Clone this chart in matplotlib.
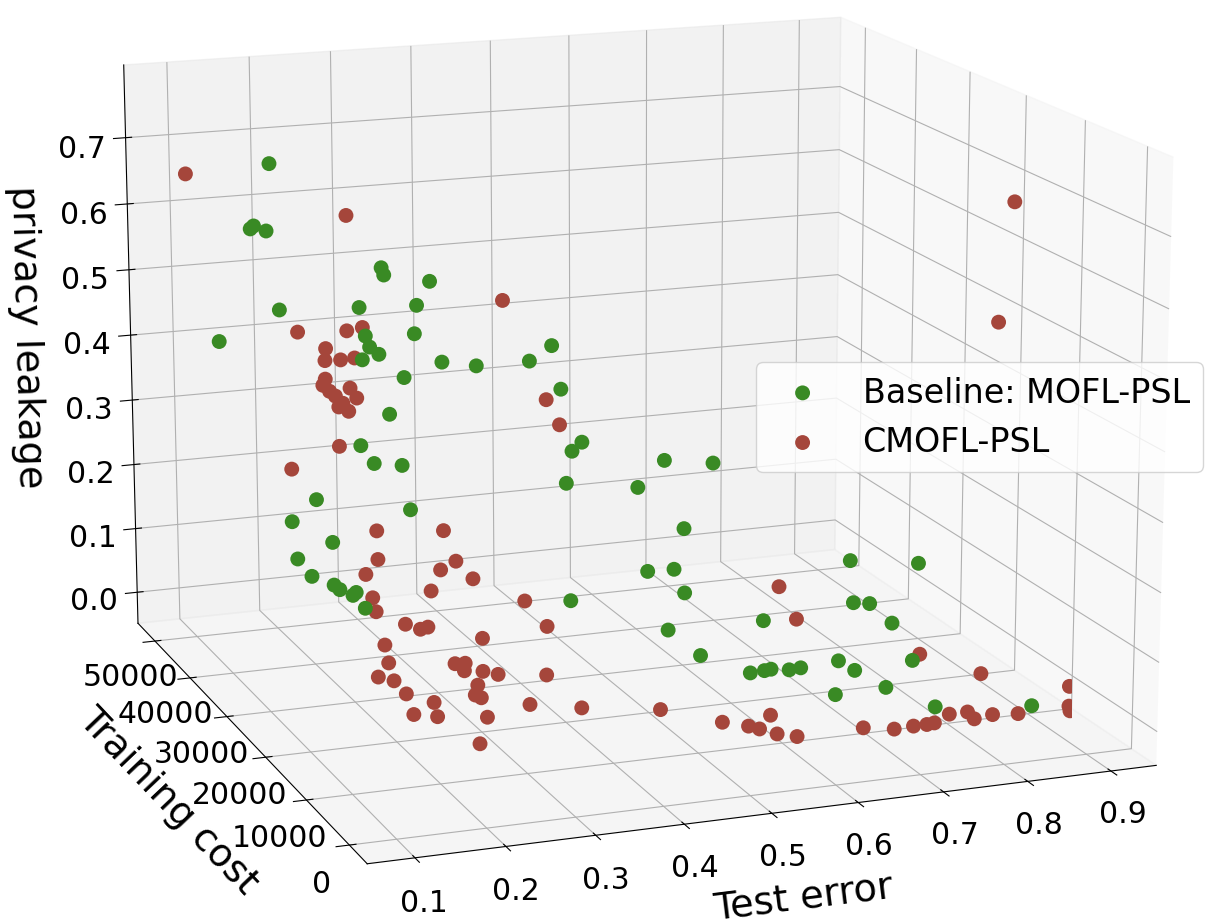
import matplotlib
matplotlib.use('Agg')
import matplotlib.pyplot as plt

# Baseline: MOFL-PSL  (test error, training cost, privacy leakage)
base_err = [0.182, 0.158, 0.162, 0.177, 0.273, 0.276, 0.331, 0.178, 0.246, 0.315,
            0.118, 0.253, 0.312, 0.258, 0.269, 0.249, 0.345, 0.299, 0.356, 0.420,
            0.447, 0.458, 0.281, 0.260, 0.276, 0.310, 0.467, 0.455, 0.448, 0.501,
            0.533, 0.592, 0.219, 0.305, 0.189, 0.557, 0.238, 0.195, 0.513, 0.545,
            0.212, 0.239, 0.246, 0.262, 0.266, 0.558, 0.277, 0.453, 0.538, 0.618,
            0.743, 0.828, 0.728, 0.748, 0.776, 0.528, 0.588, 0.605, 0.613, 0.635,
            0.649, 0.695, 0.715, 0.657, 0.718, 0.786, 0.750, 0.859]
base_cost = [46150, 46150, 46150, 46150, 37300, 37300, 37300, 43200, 37300, 37300,
             46150, 37300, 37300, 37300, 37300, 37300, 37300, 37300, 31400, 31400,
             31400, 31400, 37300, 40250, 40250, 40250, 28450, 28450, 28450, 22550,
             22550, 22550, 43200, 37300, 43200, 22550, 43200, 43200, 22550, 22550,
             43200, 43200, 43200, 43200, 43200, 22550, 43200, 28450, 22550, 16650,
             19600, 19600, 16650, 16650, 16650, 14300, 14300, 14300, 14300, 14300,
             14300, 14300, 14300, 9000, 9000, 14300, 4880, 3700]
base_leak = [0.682, 0.587, 0.591, 0.582, 0.554, 0.543, 0.528, 0.476, 0.498, 0.494,
             0.422, 0.455, 0.452, 0.438, 0.426, 0.420, 0.406, 0.388, 0.426, 0.426,
             0.446, 0.380, 0.335, 0.276, 0.247, 0.240, 0.314, 0.302, 0.255, 0.272,
             0.308, 0.297, 0.184, 0.188, 0.154, 0.204, 0.116, 0.096, 0.146, 0.145,
             0.067, 0.050, 0.042, 0.031, 0.035, 0.108, 0.009, 0.078, 0.055, 0.091,
             0.148, 0.133, 0.103, 0.099, 0.066, 0.065, 0.031, 0.032, 0.033, 0.029,
             0.030, 0.034, 0.017, 0.020, 0.022, 0.022, 0.013, 0.006]

# CMOFL-PSL
cm_err = [0.082, 0.246, 0.388, 0.213, 0.259, 0.278, 0.233, 0.232, 0.251, 0.268,
          0.232, 0.229, 0.237, 0.244, 0.262, 0.270, 0.253, 0.260, 0.248, 0.424,
          0.440, 0.248, 0.203, 0.278, 0.360, 0.279, 0.375, 0.356, 0.264, 0.396,
          0.344, 0.272, 0.276, 0.397, 0.268, 0.286, 0.295, 0.424, 0.243, 0.361,
          0.204, 0.282, 0.294, 0.293, 0.315, 0.333, 0.391, 0.163, 0.181, 0.278,
          0.275, 0.282, 0.195, 0.227, 0.339, 0.387, 0.174, 0.201, 0.258, 0.237,
          0.463, 0.515, 0.535, 0.548, 0.572, 0.554, 0.570, 0.656, 0.685, 0.708,
          0.724, 0.733, 0.759, 0.781, 0.781, 0.803, 0.834, 0.896, 0.896, 0.892,
          0.834, 0.795, 0.674, 0.696, 0.898, 0.881]
cm_cost = [46150, 40250, 31400, 46150, 43200, 43200, 43200, 43200, 43200, 43200,
           43200, 43200, 43200, 43200, 43200, 43200, 43200, 43200, 43200, 28450,
           28450, 43200, 46150, 40250, 40250, 40250, 40250, 40250, 40250, 40250,
           40250, 40250, 40250, 28450, 31400, 31400, 31400, 28450, 31400, 31400,
           22550, 22550, 22550, 22550, 22550, 22550, 22550, 16650, 16650, 16650,
           16650, 16650, 16650, 16650, 16650, 14300, 10750, 10750, 10750, 8400,
           11350, 7820, 6050, 6050, 7820, 3700, 2520, 3700, 2520, 2520,
           2520, 2520, 3700, 3700, 2520, 2520, 2520, 2520, 2520, 1800,
           9000, 14300, 22550, 22550, 13700, 13700]
cm_leak = [0.676, 0.622, 0.519, 0.426, 0.436, 0.439, 0.412, 0.394, 0.393, 0.394,
           0.366, 0.357, 0.347, 0.339, 0.349, 0.333, 0.327, 0.314, 0.322, 0.382,
           0.343, 0.262, 0.218, 0.144, 0.134, 0.100, 0.085, 0.074, 0.079, 0.055,
           0.043, 0.042, 0.020, 0.085, 0.051, 0.041, 0.043, 0.043, 0.023, 0.017,
           0.052, 0.040, 0.039, 0.028, 0.024, 0.017, 0.008, 0.071, 0.063, 0.043,
           0.029, 0.024, 0.042, 0.025, 0.006, 0.008, 0.050, 0.043, 0.034, 0.013,
           0.012, 0.007, 0.009, 0.003, 0.009, 0.009, 0.010, 0.003, 0.004, 0.005,
           0.005, 0.006, 0.008, 0.008, 0.005, 0.008, 0.005, 0.036, 0.007, 0.005,
           0.026, 0.030, 0.102, 0.050, 0.684, 0.512]

x_ticks = [0.1, 0.2, 0.3, 0.4, 0.5, 0.6, 0.7, 0.8, 0.9]
y_ticks = [0, 10000, 20000, 30000, 40000, 50000]
z_ticks = [0.0, 0.1, 0.2, 0.3, 0.4, 0.5, 0.6, 0.7]

green = '#398a24'
red = '#a5463b'

fig = plt.figure(figsize=(12.08, 9.2), dpi=100)
ax = fig.add_axes([0.1256, 0.0458, 0.7616, 1.0], projection='3d')
ax.computed_zorder = False
ax.set_box_aspect((4, 4, 3), zoom=1.354)
ax.view_init(elev=14.5, azim=-110.5)

ax.scatter(base_err, base_cost, base_leak, s=115, c=green, depthshade=False,
           edgecolors='none', label='Baseline: MOFL-PSL', zorder=3)
ax.scatter(cm_err, cm_cost, cm_leak, s=115, c=red, depthshade=False,
           edgecolors='none', label='CMOFL-PSL', zorder=2)

ax.set_xlim(0.048, 0.955)
ax.set_ylim(-4000, 55000)
ax.set_zlim(-0.049, 0.809)
ax.set_xticks(x_ticks)
ax.set_yticks(y_ticks)
ax.set_zticks(z_ticks)
ax.tick_params(labelsize=21.5)
ax.tick_params(axis='z', pad=8)

ax.set_xlabel('Test error', fontsize=27.5, labelpad=12)
ax.set_ylabel('Training cost', fontsize=27.5, labelpad=13)
ax.set_zlabel('privacy leakage', fontsize=27.5, labelpad=18)

fig.legend(loc='center right', bbox_to_anchor=(0.9959, 0.5457), fontsize=24,
           borderaxespad=0)

fig.savefig('out.png', dpi=100)
